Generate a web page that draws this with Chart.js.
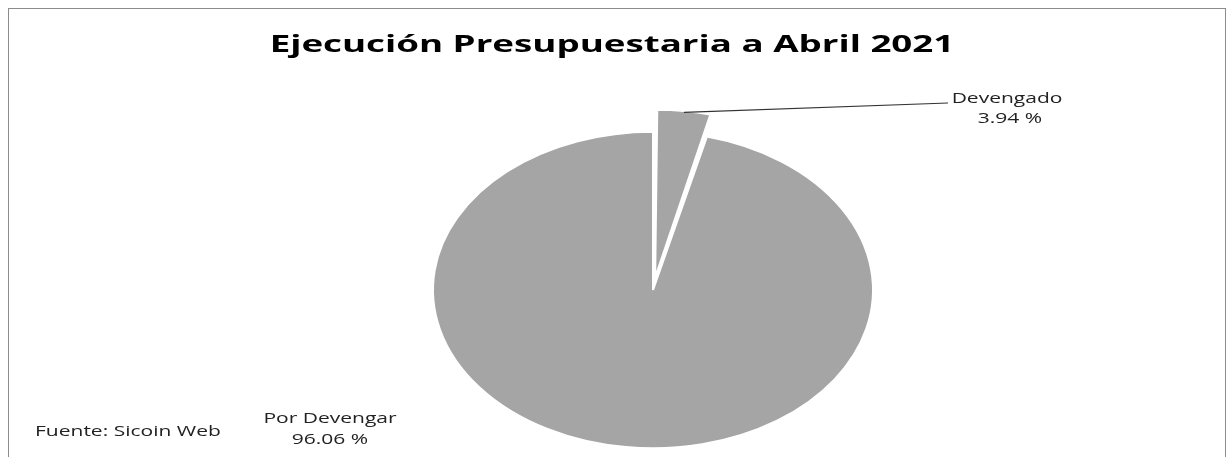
<!DOCTYPE html>
<html>
<head>
<meta charset="utf-8">
<script src="https://cdn.jsdelivr.net/npm/chart.js@4.4.1/dist/chart.umd.min.js"></script>
<style>
    html, body { margin: 0; padding: 0; background: #fff; }
    #wrap { position: relative; width: 1232px; height: 457px; }
</style>
</head>
<body>
<div id="wrap"><canvas id="pieChart" width="1232" height="457"></canvas></div>
<script>
/* datos del grafico */
var categories   = ['Devengado', 'Por Devengar'];
var percentages  = [3.94, 96.06];
var valueLabels  = ['3.94 %', '96.06 %'];
var chartTitle   = 'Ejecución Presupuestaria a Abril 2021';
var sourceNote   = 'Fuente: Sicoin Web';

var sliceGray  = '#a5a5a5';
var labelFont  = '"Open Sans", "Liberation Sans", sans-serif';
var flatten    = 158 / 220;   // pie tilted -> ellipse
var stretchX   = 1.5;         // the original text is stretched horizontally

// Helper: draw text stretched horizontally around x
function wideText(ctx, txt, x, y, align, sx) {
    ctx.save();
    ctx.translate(x, y);
    ctx.scale(sx || stretchX, 1);
    ctx.textAlign = align;
    ctx.fillText(txt, 0, 0);
    ctx.restore();
}

// Plugin: frame + title
var framePlugin = {
    id: 'frame',
    beforeDraw: function (chart) {
        var ctx = chart.ctx;
        ctx.save();
        ctx.strokeStyle = '#8c8c8c';
        ctx.lineWidth = 1;
        ctx.strokeRect(8.5, 8.5, 1217, 480);
        ctx.fillStyle = '#000';
        ctx.font = 'bold 24px ' + labelFont;
        ctx.textBaseline = 'alphabetic';
        wideText(ctx, chartTitle, 612, 52, 'center', 1.53);
        ctx.restore();
    }
};

// Plugin: squash the pie vertically around its centre
var ellipsePlugin = {
    id: 'ellipse',
    beforeDatasetsDraw: function (chart) {
        var arc = chart.getDatasetMeta(0).data[0];
        var ctx = chart.ctx;
        ctx.save();
        ctx.translate(arc.x, arc.y);
        ctx.scale(1, flatten);
        ctx.translate(-arc.x, -arc.y);
    },
    afterDatasetsDraw: function (chart) {
        chart.ctx.restore();
    }
};

// Plugin: data labels + leader line + source note
var labelPlugin = {
    id: 'pieLabels',
    afterDraw: function (chart) {
        var ctx = chart.ctx;
        var a = chart.getDatasetMeta(0).data[0];
        // Chart.js v4: slice moves offset/4 and its radius grows by offset/4 * fix
        var off = chart.data.datasets[0].offset[0] / 4;
        var fix = 1 - Math.sin(Math.min(Math.PI, a.circumference));
        var mid = (a.startAngle + a.endAngle) / 2;
        var r = a.outerRadius + off + off * fix;
        var sx = a.x + Math.cos(mid) * r;
        var sy = a.y + Math.sin(mid) * r * flatten;

        ctx.save();
        ctx.strokeStyle = '#333';
        ctx.lineWidth = 1.2;
        ctx.beginPath();
        ctx.moveTo(sx, sy + 1);
        ctx.lineTo(948, 103);
        ctx.stroke();

        ctx.fillStyle = '#222';
        ctx.textBaseline = 'middle';
        ctx.font = '14px ' + labelFont;
        wideText(ctx, categories[0], 1007, 99, 'center');
        wideText(ctx, valueLabels[0], 1010, 119, 'center');

        wideText(ctx, categories[1], 330, 419, 'center');
        wideText(ctx, valueLabels[1], 330, 440, 'center');

        wideText(ctx, sourceNote, 35, 432, 'left');
        ctx.restore();
    }
};

new Chart(document.getElementById('pieChart'), {
    type: 'pie',
    data: {
        labels: categories,
        datasets: [{
            data: percentages,
            backgroundColor: [sliceGray, sliceGray],
            borderColor: '#ffffff',
            borderWidth: 2,
            offset: [70, 0]
        }]
    },
    options: {
        responsive: false,
        animation: false,
        devicePixelRatio: 1,
        radius: 220,
        layout: { padding: { left: 74, right: 0, top: 123, bottom: 0 } },
        plugins: {
            legend: { display: false },
            tooltip: { enabled: false },
            title: { display: false }
        }
    },
    plugins: [framePlugin, ellipsePlugin, labelPlugin]
});
</script>
</body>
</html>
